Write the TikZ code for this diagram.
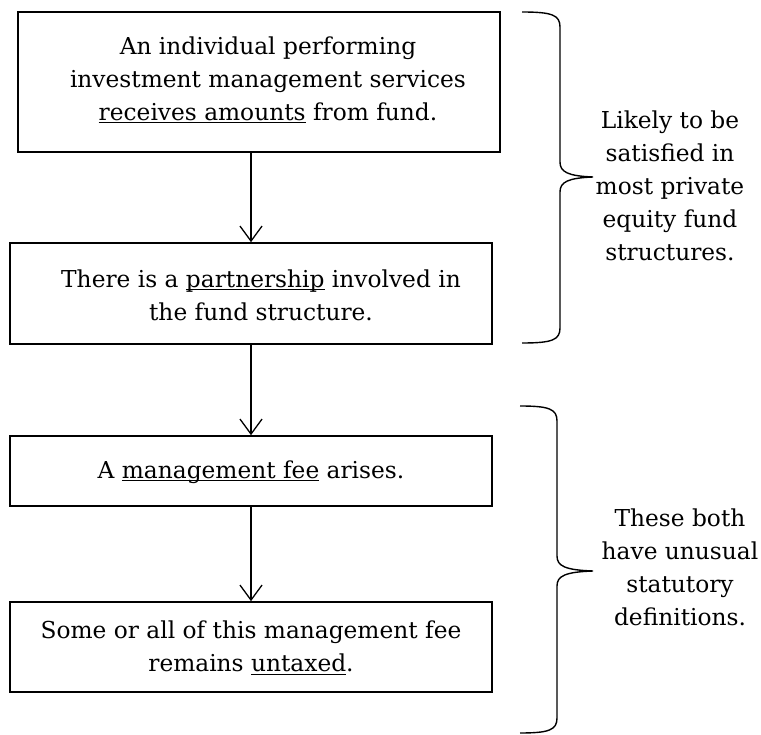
\documentclass[tikz,border=0pt]{standalone}
\usepackage{fontspec}
\setmainfont{DejaVu Serif}
\usetikzlibrary{arrows.meta}
\newcommand\myul[1]{\setbox0\hbox{#1}\rlap{\rule[-3pt]{\wd0}{1pt}}\box0\relax}
\tikzset{
  flowbox/.style={draw, line width=1.6pt, minimum width=482pt, inner sep=0pt},
  boxtext/.style={align=center, inner sep=0pt, font=\fontsize{23.3}{33}\selectfont},
  sidetext/.style={align=center, inner sep=0pt, font=\fontsize{23.3}{33}\selectfont},
  flowarrow/.style={line width=1.3pt, -{Straight Barb[length=15pt,width=22pt,line width=1.3pt]}},
  bracepath/.style={line width=1.4pt}
}
\begin{document}
\begin{tikzpicture}[x=1pt,y=-1pt]
\useasboundingbox (0,0) rectangle (761,735);
% boxes
\node[flowbox, minimum height=140pt] (b1) at (259,82) {};
\node[flowbox, minimum height=101pt] (b2) at (251,293.5) {};
\node[flowbox, minimum height=70pt] (b3) at (251,471) {};
\node[flowbox, minimum height=90pt] (b4) at (251,647) {};
% box texts
\node[boxtext] (t1) at (268,80) {An individual performing\\investment management services\\\myul{receives amounts} from fund.};
\node[boxtext] (t2) at (261,295) {There is a \myul{partnership} involved in\\the fund structure.};
\node[boxtext] (t3) at (251,472) {A \myul{management fee} arises.};
\node[boxtext] (t4) at (251,648) {Some or all of this management fee\\remains \myul{untaxed}.};
% arrows
\draw[flowarrow] (b1.south -| b2.north) -- (b2.north);
\draw[flowarrow] (b2.south) -- (b3.north);
\draw[flowarrow] (b3.south) -- (b4.north);
% braces
\coordinate (br1top) at (522,12);
\coordinate (br1tip) at (593,177);
\coordinate (br1bot) at (522,343);
\draw[bracepath] (br1top) .. controls (552,12) and (560,15) .. (560,27)
  -- (560,162) .. controls (560,172) and (568,176) .. (br1tip)
  .. controls (568,178) and (560,182) .. (560,192)
  -- (560,328) .. controls (560,340) and (552,343) .. (br1bot);
\coordinate (br2top) at (520,406);
\coordinate (br2tip) at (593,571);
\coordinate (br2bot) at (520,733);
\draw[bracepath] (br2top) .. controls (549,406) and (557,409) .. (557,421)
  -- (557,556) .. controls (557,566) and (565,570) .. (br2tip)
  .. controls (565,572) and (557,576) .. (557,586)
  -- (557,718) .. controls (557,730) and (549,733) .. (br2bot);
% side texts
\node[sidetext] (s1) at (670,186) {Likely to be\\satisfied in\\most private\\equity fund\\structures.};
\node[sidetext] (s2) at (680,567) {These both\\have unusual\\statutory\\definitions.};
\end{tikzpicture}
\end{document}
